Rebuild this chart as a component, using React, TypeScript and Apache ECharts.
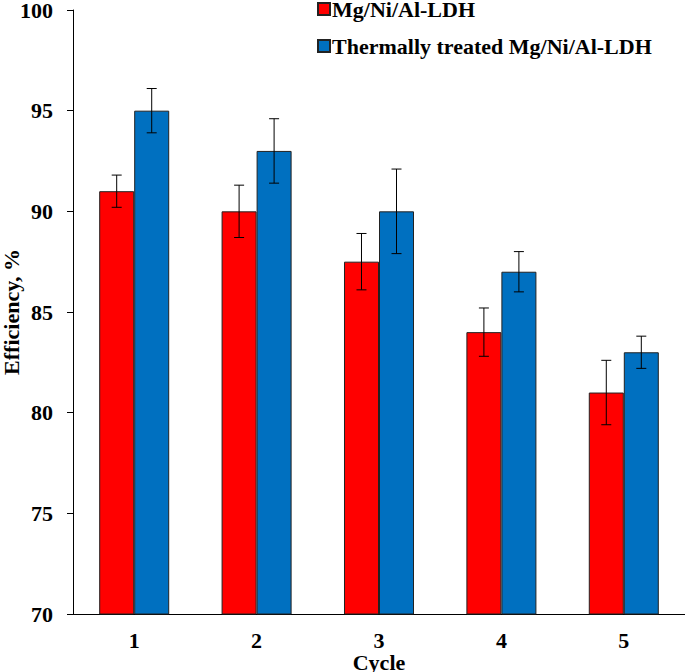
import React, { useEffect, useRef } from "react";
import * as echarts from "echarts";

const categories = ["1", "2", "3", "4", "5"];
const seriesNames = ["Mg/Ni/Al-LDH", "Thermally treated Mg/Ni/Al-LDH"];
const untreated = [91, 90, 87.5, 84, 81];
const untreatedErr = [0.8, 1.3, 1.4, 1.2, 1.6];
const treated = [95, 93, 90, 87, 83];
const treatedErr = [1.1, 1.6, 2.1, 1.0, 0.8];
const colors = ["#ff0000", "#0070c0"];

const FONT = "'Liberation Serif', 'Times New Roman', serif";
const BAR_FRAC = 0.286;

function errorSeries(values: number[], errs: number[], side: number) {
  return {
    type: "custom",
    silent: true,
    z: 10,
    data: values.map((v, i) => [i, v - errs[i], v + errs[i]]),
    renderItem: (params: any, api: any) => {
      const i = api.value(0);
      const lo = api.coord([i, api.value(1)]);
      const hi = api.coord([i, api.value(2)]);
      const band = api.size([1, 0])[0];
      const x = lo[0] + side * band * BAR_FRAC * 0.5;
      const cap = 5;
      const style = { stroke: "#000", lineWidth: 1 };
      return {
        type: "group",
        children: [
          { type: "line", shape: { x1: x, y1: lo[1], x2: x, y2: hi[1] }, style },
          { type: "line", shape: { x1: x - cap, y1: lo[1], x2: x + cap, y2: lo[1] }, style },
          { type: "line", shape: { x1: x - cap, y1: hi[1], x2: x + cap, y2: hi[1] }, style },
        ],
      };
    },
  };
}

export default function App() {
  const ref = useRef<HTMLDivElement>(null);
  useEffect(() => {
    document.body.style.margin = "0";
    const chart = echarts.init(ref.current!, undefined, { renderer: "svg" });
    chart.setOption({
      animation: false,
      backgroundColor: "#fff",
      textStyle: { fontFamily: FONT },
      grid: { left: 73, right: 0, top: 10, bottom: 58, outerBoundsMode: "none", containLabel: false },
      legend: {
        orient: "vertical",
        left: 317,
        top: -2,
        padding: 0,
        itemGap: 15,
        itemWidth: 12,
        itemHeight: 12,
        icon: "rect",
        data: seriesNames,
        textStyle: {
          fontFamily: FONT,
          fontSize: 22,
          fontWeight: "bold",
          color: "#000",
          padding: [0, 0, 0, -3],
        },
      },
      xAxis: {
        type: "category",
        data: categories,
        name: "Cycle",
        nameLocation: "middle",
        nameGap: 37,
        nameMoveOverlap: false,
        nameTextStyle: { fontFamily: FONT, fontSize: 22, fontWeight: "bold", color: "#000" },
        axisLine: { lineStyle: { color: "#000", width: 1 } },
        axisTick: { inside: true, length: 5, lineStyle: { color: "#000" } },
        axisLabel: { margin: 15, fontFamily: FONT, fontSize: 22, fontWeight: "bold", color: "#000" },
      },
      yAxis: {
        type: "value",
        min: 70,
        max: 100,
        interval: 5,
        name: "Efficiency, %",
        nameLocation: "middle",
        nameGap: 51,
        nameMoveOverlap: false,
        nameTextStyle: { fontFamily: FONT, fontSize: 22, fontWeight: "bold", color: "#000" },
        splitLine: { show: false },
        axisLine: { show: true, lineStyle: { color: "#000", width: 1 } },
        axisTick: { show: true, length: 6, lineStyle: { color: "#000" } },
        axisLabel: { margin: 20, fontFamily: FONT, fontSize: 22, fontWeight: "bold", color: "#000" },
      },
      series: [
        {
          name: seriesNames[0],
          type: "bar",
          data: untreated,
          barWidth: BAR_FRAC * 100 + "%",
          barGap: "0%",
          itemStyle: { color: colors[0], borderColor: "#222", borderWidth: 1 },
        },
        {
          name: seriesNames[1],
          type: "bar",
          data: treated,
          barWidth: BAR_FRAC * 100 + "%",
          barGap: "0%",
          itemStyle: { color: colors[1], borderColor: "#222", borderWidth: 1 },
        },
        errorSeries(untreated, untreatedErr, -1),
        errorSeries(treated, treatedErr, 1),
      ],
    });
    return () => chart.dispose();
  }, []);
  return <div ref={ref} style={{ width: 685, height: 672 }} />;
}
